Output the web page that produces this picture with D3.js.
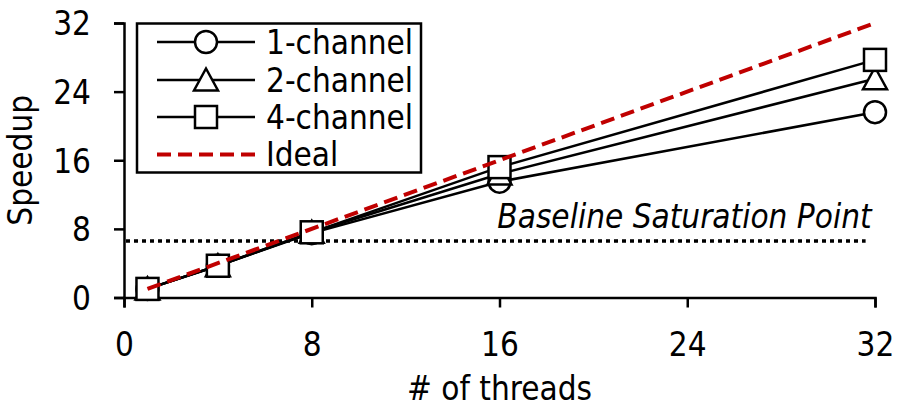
<!DOCTYPE html>
<html>
<head>
<meta charset="utf-8">
<script src="https://cdn.jsdelivr.net/npm/d3@7/dist/d3.min.js"></script>
<style>
  html, body { margin: 0; padding: 0; background: #fff; }
  svg text { font-family: "DejaVu Sans Condensed", "DejaVu Sans", sans-serif; fill: #000; }
</style>
</head>
<body>
<svg id="chart" width="897" height="409"></svg>
<script>
// Thread counts and measured speedups per memory-channel configuration
const threads = [1, 4, 8, 16, 32];
const oneChannel = [1, 3.7, 7.5, 13.5, 21.6];
const twoChannel = [1, 3.7, 7.6, 14.4, 25.5];
const fourChannel = [1, 3.7, 7.6, 15.2, 27.7];
const idealX = [1, 32];
const idealY = [1, 32];
const baselineSaturation = 6.6;
const baselineSpan = [0, 31.6];
const xTicks = [0, 8, 16, 24, 32];
const yTicks = [0, 8, 16, 24, 32];
const seriesNames = ["1-channel", "2-channel", "4-channel", "Ideal"];

const svg = d3.select("#chart");
const margin = { left: 124, right: 22, top: 23, bottom: 111.5 };
const W = 897, H = 409;

const x = d3.scaleLinear().domain([0, 32]).range([margin.left, W - margin.right]);
const y = d3.scaleLinear().domain([0, 32]).range([H - margin.bottom, margin.top]);

const FS = 33;
const red = "#C00000";

// Axes
const xAxis = svg.append("g")
  .attr("transform", `translate(0,${y(0)})`)
  .call(d3.axisBottom(x).tickValues(xTicks).tickSize(10).tickPadding(25).tickFormat(d3.format("d")));
const yAxis = svg.append("g")
  .attr("transform", `translate(${x(0)},0)`)
  .call(d3.axisLeft(y).tickValues(yTicks).tickSize(10).tickPadding(23).tickFormat(d3.format("d")));
[xAxis, yAxis].forEach(g => {
  g.selectAll("path.domain").attr("stroke", "#000").attr("stroke-width", 2.5);
  g.selectAll(".tick line").attr("stroke", "#000").attr("stroke-width", 2.5);
  g.selectAll(".tick text").attr("font-size", FS).attr("fill", "#000")
    .style("font-family", '"DejaVu Sans Condensed", "DejaVu Sans", sans-serif');
});
yAxis.selectAll(".tick text").attr("dy", "0.36em");

// Axis titles
svg.append("text")
  .attr("x", (x(0) + x(32)) / 2).attr("y", 400)
  .attr("text-anchor", "middle").attr("font-size", FS)
  .text("# of threads");
svg.append("text")
  .attr("transform", `translate(32,${(y(0) + y(32)) / 2}) rotate(-90)`)
  .attr("text-anchor", "middle").attr("font-size", FS)
  .text("Speedup");

// Baseline saturation reference
svg.append("line")
  .attr("x1", x(baselineSpan[0]) + 2).attr("x2", x(baselineSpan[1]))
  .attr("y1", y(baselineSaturation)).attr("y2", y(baselineSaturation))
  .attr("stroke", "#000").attr("stroke-width", 3.5)
  .attr("stroke-dasharray", "4,4");
svg.append("text")
  .attr("x", x(baselineSpan[1]) + 6).attr("y", 228)
  .attr("text-anchor", "end").attr("font-size", FS).attr("font-style", "italic")
  .text("Baseline Saturation Point");

const line = d3.line().x(d => x(d[0])).y(d => y(d[1]));
const series = [
  { name: seriesNames[0], values: oneChannel, shape: "circle" },
  { name: seriesNames[1], values: twoChannel, shape: "triangle" },
  { name: seriesNames[2], values: fourChannel, shape: "square" }
];

function marker(g, shape, cx, cy) {
  if (shape === "circle") {
    g.append("circle").attr("cx", cx).attr("cy", cy).attr("r", 11)
      .attr("fill", "#fff").attr("stroke", "#000").attr("stroke-width", 2.5);
  } else if (shape === "triangle") {
    const s = 24, h = 21;
    g.append("path")
      .attr("d", `M${cx},${cy - h / 2 - 1} L${cx + s / 2},${cy + h / 2} L${cx - s / 2},${cy + h / 2} Z`)
      .attr("fill", "#fff").attr("stroke", "#000").attr("stroke-width", 2.5).attr("stroke-linejoin", "miter");
  } else {
    const s = 22;
    g.append("rect").attr("x", cx - s / 2).attr("y", cy - s / 2).attr("width", s).attr("height", s)
      .attr("fill", "#fff").attr("stroke", "#000").attr("stroke-width", 2.5);
  }
}

// Series lines then markers
series.forEach(s => {
  const pts = threads.map((t, i) => [t, s.values[i]]);
  svg.append("path").datum(pts).attr("d", line)
    .attr("fill", "none").attr("stroke", "#000").attr("stroke-width", 2.5);
});
series.forEach(s => {
  const g = svg.append("g");
  threads.forEach((t, i) => marker(g, s.shape, x(t), y(s.values[i])));
});

// Ideal linear speedup
svg.append("path").datum(idealX.map((t, i) => [t, idealY[i]])).attr("d", line)
  .attr("fill", "none").attr("stroke", red).attr("stroke-width", 4)
  .attr("stroke-dasharray", "14,7");

// Legend
const lg = svg.append("g");
lg.append("rect").attr("x", 137).attr("y", 23.5).attr("width", 284).attr("height", 149)
  .attr("fill", "#fff").attr("stroke", "#000").attr("stroke-width", 2.5);
const rowsY = [42, 80, 117, 154.5];
seriesNames.forEach((name, i) => {
  const ry = rowsY[i];
  const l = lg.append("line").attr("x1", 157).attr("x2", 255).attr("y1", ry).attr("y2", ry);
  if (i < 3) {
    l.attr("stroke", "#000").attr("stroke-width", 2.5);
    marker(lg, series[i].shape, 206, ry);
  } else {
    l.attr("stroke", red).attr("stroke-width", 4).attr("stroke-dasharray", "14,7");
  }
  lg.append("text").attr("x", 266).attr("y", ry).attr("dy", "0.36em")
    .attr("font-size", FS).text(name);
});
</script>
</body>
</html>
